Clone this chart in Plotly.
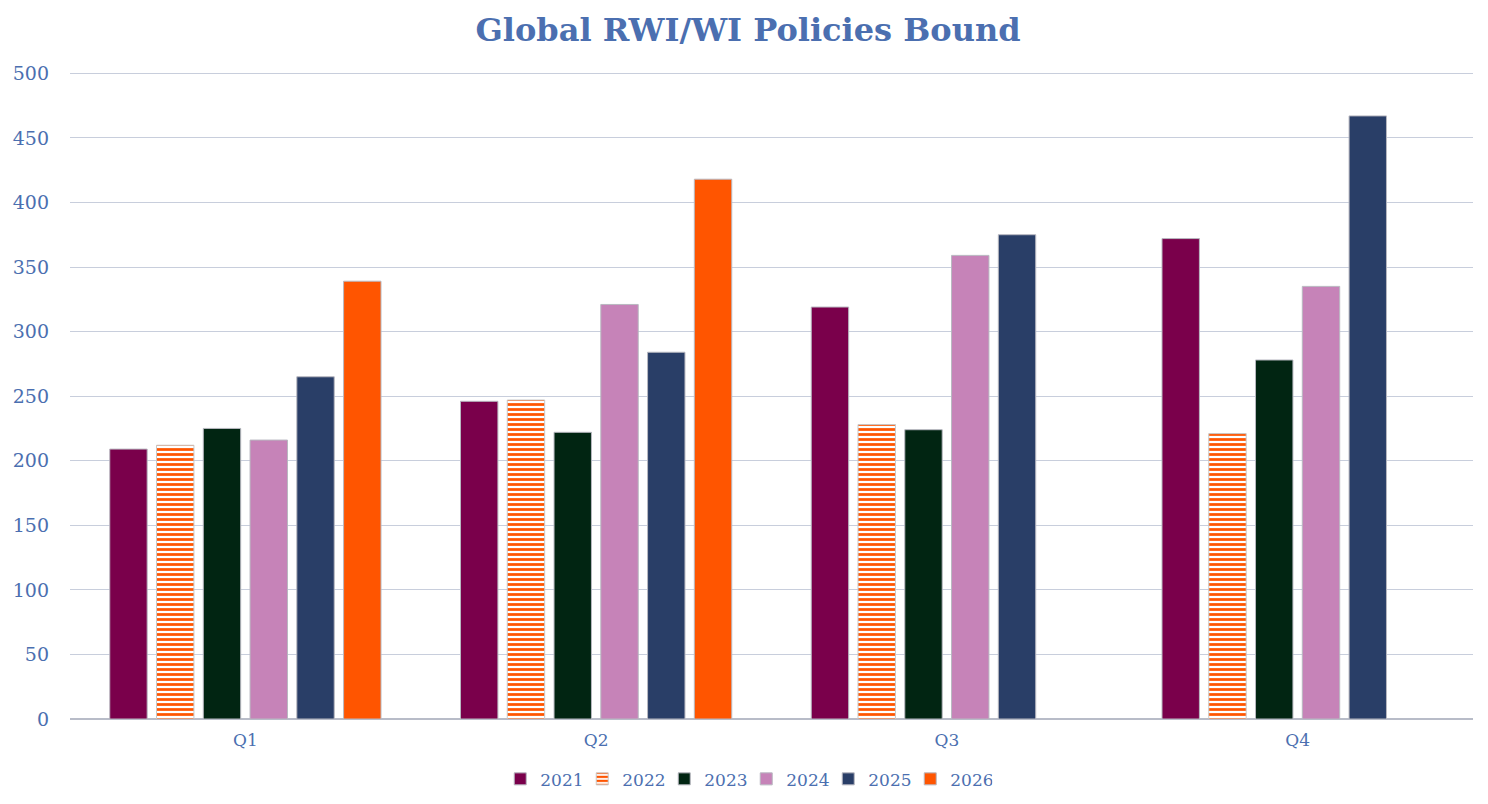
import plotly.graph_objects as go

quarters = ["Q1", "Q2", "Q3", "Q4"]
years = ["2021", "2022", "2023", "2024", "2025", "2026"]

v2021 = [209, 246, 319, 372]
v2022 = [212, 247, 228, 221]
v2023 = [225, 222, 224, 278]
v2024 = [216, 321, 359, 335]
v2025 = [265, 284, 375, 467]
v2026 = [339, 418, None, None]

series = [v2021, v2022, v2023, v2024, v2025, v2026]
colors = ["#7a004b", "#ff5500", "#012512", "#c683b8", "#293e67", "#ff5500"]

text_color = "#4b6fb0"
font_family = "'DejaVu Serif', Georgia, serif"

fig = go.Figure()

for year, vals, col in zip(years, series, colors):
    if year == "2022":
        # striped bars: orange horizontal lines on white
        marker = dict(color=col,
                      pattern=dict(shape="-", fgcolor=col, bgcolor="white",
                                   size=5, solidity=0.55, fillmode="replace"),
                      line=dict(color="#c8c8c8", width=1))
    else:
        marker = dict(color=col, line=dict(color="#b8b8c0", width=1))
    fig.add_trace(go.Bar(x=quarters, y=vals, name=year, marker=marker))

fig.update_layout(
    title=dict(text="<b>Global RWI/WI Policies Bound</b>", x=0.5, xanchor="center",
               y=0.972, yanchor="middle",
               font=dict(family=font_family, size=32, color=text_color)),
    width=1480, height=796,
    margin=dict(l=62, r=15, t=64, b=85),
    paper_bgcolor="white", plot_bgcolor="white",
    barmode="group", bargap=0.2, bargroupgap=0.2,
    font=dict(family=font_family, color=text_color, size=17),
    legend=dict(orientation="h", x=0.482, xanchor="center",
                yref="container", y=0.031, yanchor="middle",
                font=dict(size=17, color=text_color), itemwidth=30,
                entrywidth=37, entrywidthmode="pixels",
                traceorder="normal"),
    showlegend=True,
)

fig.update_yaxes(range=[0, 501], tickvals=list(range(0, 501, 50)), showgrid=True,
                 gridcolor="#c8cedc", gridwidth=1, zeroline=True, zerolinecolor="#b8bcc8",
                 zerolinewidth=1.5, ticks="", tickfont=dict(size=19, color=text_color),
                 ticklabelstandoff=20, automargin=False)
fig.update_xaxes(showline=False, ticks="", tickfont=dict(size=17, color=text_color),
                 ticklabelstandoff=9, automargin=False)

fig.write_html("out.html")
